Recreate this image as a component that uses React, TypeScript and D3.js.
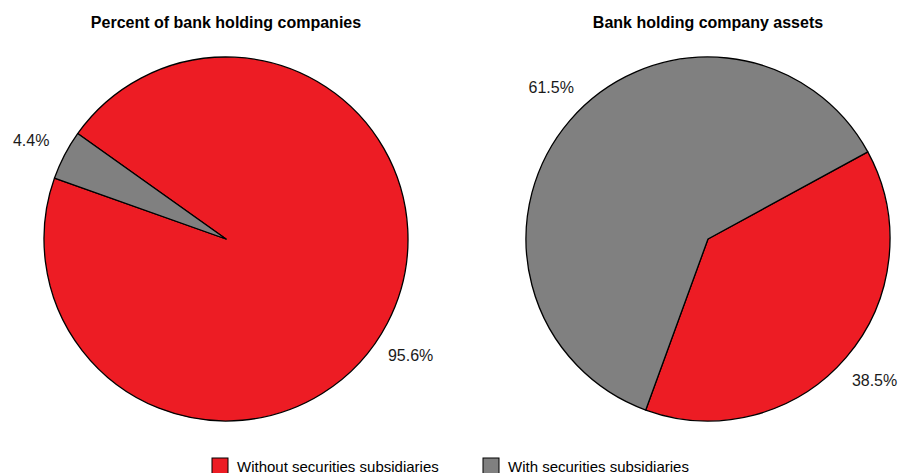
import React from "react";
import * as d3 from "d3";

const categories = ["Without securities subsidiaries", "With securities subsidiaries"];
const colors = ["#ED1C24", "#808080"];
const pieTitles = ["Percent of bank holding companies", "Bank holding company assets"];
const companiesValues = [95.6, 4.4];
const assetsValues = [38.5, 61.5];

// orientation / label style settings (degrees)
const pieStartDegrees = [-54.6, 61.4];
const labelNudgeDegrees = [
  [4.8, -0.6],
  [-0.4, 3.4],
];

const W = 901;
const H = 473;
const FONT = "Arial, 'Liberation Sans', Helvetica, sans-serif";

type Datum = { cat: string; value: number; color: string };

function Pie({ values, cx, cy, r, title, startDeg, nudges }: { values: number[]; cx: number; cy: number; r: number; title: string; startDeg: number; nudges: number[] }) {
  const data: Datum[] = values.map((v, i) => ({ cat: categories[i], value: v, color: colors[i] }));
  const start = (startDeg * Math.PI) / 180;
  const arcs = d3
    .pie<Datum>()
    .sort(null)
    .value((d) => d.value)
    .startAngle(start)
    .endAngle(start + 2 * Math.PI)(data);
  const arcGen = d3.arc<d3.PieArcDatum<Datum>>().innerRadius(0).outerRadius(r);
  const labelR = r * 1.2;
  return (
    <g>
      <text x={cx} y={28} textAnchor="middle" fontFamily={FONT} fontWeight="bold" fontSize={16} fill="#000">
        {title}
      </text>
      <g transform={`translate(${cx},${cy})`}>
        {arcs.map((a, i) => (
          <path key={i} d={arcGen(a) || ""} fill={a.data.color} stroke="#000" strokeWidth={1.3} strokeLinejoin="round" />
        ))}
        {arcs.map((a, i) => {
          const mid = (a.startAngle + a.endAngle) / 2 + (nudges[i] * Math.PI) / 180;
          const x = Math.sin(mid) * labelR;
          const y = -Math.cos(mid) * labelR;
          return (
            <text key={"l" + i} x={x} y={y} dy="0.35em" textAnchor="middle" fontFamily={FONT} fontSize={16} fill="#1a1a1a">
              {a.data.value.toFixed(1) + "%"}
            </text>
          );
        })}
      </g>
    </g>
  );
}

export default function App() {
  const legendX = [212, 483];
  return (
    <svg width={W} height={H} style={{ position: "absolute", left: 0, top: 0, background: "#fff" }}>
      <rect x={0} y={0} width={W} height={H} fill="#fff" />
      <Pie values={companiesValues} cx={226} cy={239} r={182} title={pieTitles[0]} startDeg={pieStartDegrees[0]} nudges={labelNudgeDegrees[0]} />
      <Pie values={assetsValues} cx={708} cy={239} r={182} title={pieTitles[1]} startDeg={pieStartDegrees[1]} nudges={labelNudgeDegrees[1]} />
      {categories.map((c, i) => (
        <g key={c} transform={`translate(${legendX[i]},458)`}>
          <rect x={0} y={0} width={16} height={16} fill={colors[i]} stroke="#000" strokeWidth={1} />
          <text x={25} y={14} fontFamily={FONT} fontSize={15} fill="#000">
            {c}
          </text>
        </g>
      ))}
    </svg>
  );
}
